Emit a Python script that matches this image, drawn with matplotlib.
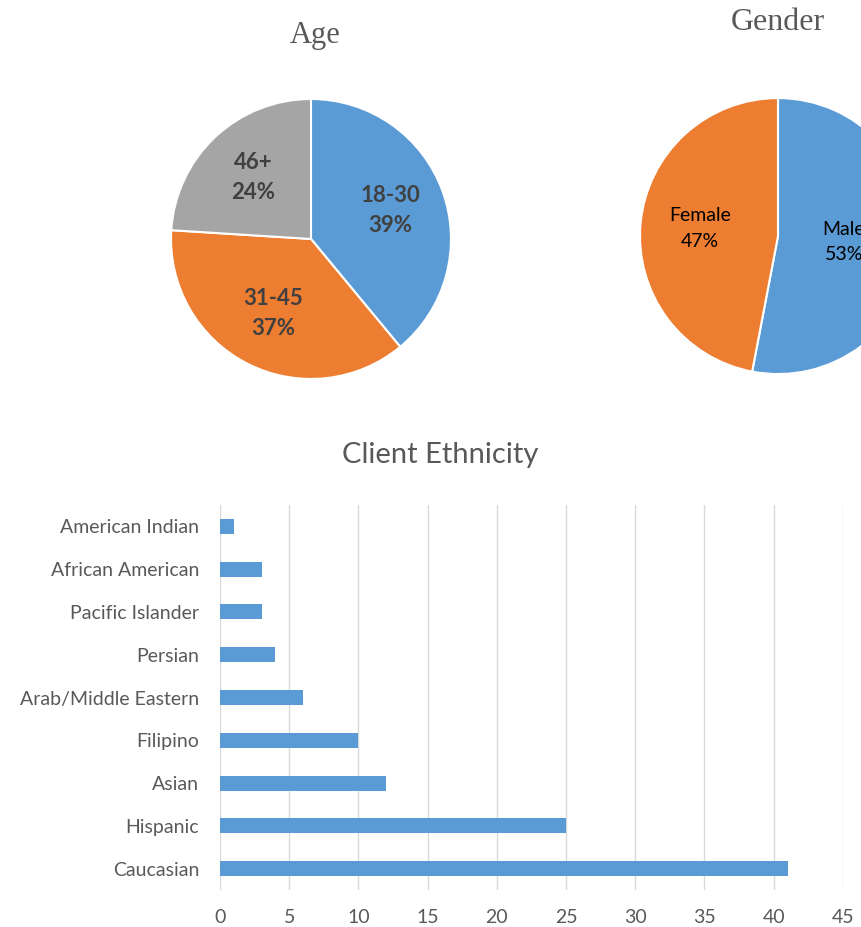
import numpy as np
import matplotlib.pyplot as plt

# Data
age_labels = ['18-30', '31-45', '46+']
age_share = [39, 37, 24]

gender_labels = ['Male', 'Female']
gender_share = [53, 47]

ethnicity = ['Caucasian', 'Hispanic', 'Asian', 'Filipino', 'Arab/Middle Eastern',
             'Persian', 'Pacific Islander', 'African American', 'American Indian']
clients = [41, 25, 12, 10, 6, 4, 3, 3, 1]
x_ticks = [0, 5, 10, 15, 20, 25, 30, 35, 40, 45]

blue = '#5B9BD5'
orange = '#ED7D31'
gray = '#A5A5A5'
text_gray = '#595959'

fig = plt.figure(figsize=(8.61, 9.27), dpi=100)


def draw_pie(rect, values, labels, colors, dists, bold, color, size, spacing):
    ax = fig.add_axes(rect)
    wedges, _, autotexts = ax.pie(
        values, colors=colors, startangle=90, counterclock=False,
        autopct='%1.0f%%', pctdistance=1.0,
        wedgeprops=dict(edgecolor='white', linewidth=1.5))
    for t, lab, v, d in zip(autotexts, labels, values, dists):
        px, py = t.get_position()
        t.set_position((px * d, py * d))
        t.set_text(f'{lab}\n{v}%')
        t.set_fontfamily('Lato')
        t.set_fontsize(size)
        t.set_fontweight('bold' if bold else 'normal')
        t.set_color(color)
        t.set_linespacing(spacing)
    ax.set_xlim(-1, 1)
    ax.set_ylim(-1, 1)
    ax.set_aspect('equal')
    return ax


# Age pie (center ~ (311, 239) px, radius ~140 px)
draw_pie([0.1986, 0.5912, 0.3252, 0.3020], age_share, age_labels,
         [blue, orange, gray], [0.6, 0.6, 0.6], True, '#404040', 16, 1.55)
fig.text(315 / 861, 1 - 35 / 927, 'Age', ha='center', va='center',
         family='Liberation Serif', fontsize=22, color=text_gray)

# Gender pie (cut off at the right edge, as in the original)
draw_pie([0.7433, 0.5965, 0.3206, 0.2977], gender_share, gender_labels,
         [blue, orange], [0.48, 0.57], False, 'black', 14, 1.6)
fig.text(778 / 861, 1 - 22 / 927, 'Gender', ha='center', va='center',
         family='Liberation Serif', fontsize=23, color=text_gray)

# Client ethnicity bar chart
ax = fig.add_axes([0.2555, 0.0399, 0.7235, 0.4153])
y = np.arange(len(ethnicity))
ax.barh(y, clients, height=0.35, color=blue, zorder=3)
ax.set_xlim(0, 45)
ax.set_ylim(-0.5, len(ethnicity) - 0.5)
ax.set_xticks(x_ticks)
ax.set_yticks(y)
ax.set_yticklabels(ethnicity)
ax.grid(axis='x', color='#D9D9D9', linewidth=1, zorder=0)
for s in ax.spines.values():
    s.set_visible(False)
ax.tick_params(length=0, labelsize=14, labelcolor=text_gray, pad=14)
for lab in ax.get_xticklabels() + ax.get_yticklabels():
    lab.set_fontfamily('Lato')
ax.tick_params(axis='y', pad=15)
fig.text(440 / 861, 1 - 455 / 927, 'Client Ethnicity', ha='center', va='center',
         family='Lato', fontsize=21, color=text_gray)

fig.savefig('out.png', dpi=100)
